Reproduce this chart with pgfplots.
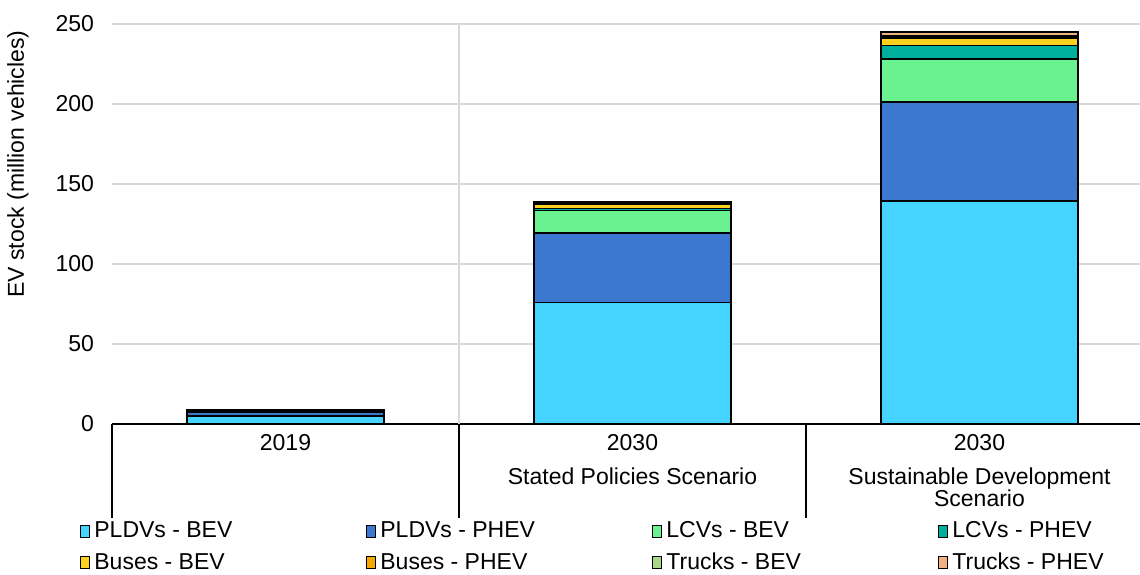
\documentclass[border=0pt]{standalone}
\usepackage{fontspec}
\setmainfont{Liberation Sans}
\usepackage{pgfplots}
\usepackage{pgfplotstable}
\pgfplotsset{compat=1.18}

\definecolor{pldvbev}{HTML}{45D3FF}
\definecolor{pldvphev}{HTML}{3D78D0}
\definecolor{lcvbev}{HTML}{6AF291}
\definecolor{lcvphev}{HTML}{00AE9E}
\definecolor{busbev}{HTML}{FFD21F}
\definecolor{busphev}{HTML}{F5A800}
\definecolor{trkbev}{HTML}{A9D78A}
\definecolor{trkphev}{HTML}{F2B183}
\definecolor{gridgray}{HTML}{D9D9D9}

% stock in million vehicles
\pgfplotstableread{
x  pbev  pphev lbev lphev bbev bphev tbev tphev
0  5.0   2.3   0.8  0.1   0.6  0.05  0.05 0.02
1  76    43.5  14   1.2   2.8  0.4   0.6  0.6
2  139.4 61.9  26.8 8.5   4.5  0.4   1.2  2.2
}\stock

\pgfplotsset{
  evbar/.style={fill=#1, draw=black, line width=0.9pt,
    legend image code/.code={\draw[fill=#1, draw=black, line width=0.5pt] (0pt,-3pt) rectangle (4.5pt,3pt);}},
}
\newcommand{\legtxt}[1]{\makebox[134pt][l]{#1}}

\begin{document}
\fontsize{11.5}{14}\selectfont
\begin{tikzpicture}
\begin{axis}[
  scale only axis,
  width=520.5pt, height=200pt,
  ybar stacked, bar width=0.57,
  xmin=-0.5, xmax=2.5,
  ymin=0, ymax=250,
  ytick={0,50,...,250},
  xtick={0,1,2},
  xticklabels={2019,{2030\\[3pt]Stated Policies Scenario},{2030\\[3pt]Sustainable Development\\[-3pt]Scenario}},
  xticklabel style={align=center, yshift=-1pt},
  yticklabel style={xshift=-5pt},
  /pgf/number format/assume math mode=true,
  major tick length=0pt,
  ymajorgrids, grid style={gridgray, line width=0.6pt},
  axis line style={draw=none},
  ylabel={EV stock (million vehicles)},
  ylabel style={at={(rel axis cs:0,0.65)}, anchor=center, yshift=47pt},
  clip=false,
  legend columns=4,
  legend cell align=left,
  legend style={at={(rel axis cs:0,0)}, anchor=north west, xshift=-19pt, yshift=-44.5pt,
    draw=none, fill=none, row sep=2pt,
    /tikz/every even column/.append style={column sep=0pt}},
]
\draw[gridgray, line width=0.8pt] (axis cs:0.5,0) -- (axis cs:0.5,250);
\addplot[evbar=pldvbev] table[x=x, y=pbev] {\stock};
\addlegendentry{\legtxt{PLDVs - BEV}}
\addplot[evbar=pldvphev] table[x=x, y=pphev] {\stock};
\addlegendentry{\legtxt{PLDVs - PHEV}}
\addplot[evbar=lcvbev] table[x=x, y=lbev] {\stock};
\addlegendentry{\legtxt{LCVs - BEV}}
\addplot[evbar=lcvphev] table[x=x, y=lphev] {\stock};
\addlegendentry{\legtxt{LCVs - PHEV}}
\addplot[evbar=busbev] table[x=x, y=bbev] {\stock};
\addlegendentry{\legtxt{Buses - BEV}}
\addplot[evbar=busphev] table[x=x, y=bphev] {\stock};
\addlegendentry{\legtxt{Buses - PHEV}}
\addplot[evbar=trkbev] table[x=x, y=tbev] {\stock};
\addlegendentry{\legtxt{Trucks - BEV}}
\addplot[evbar=trkphev] table[x=x, y=tphev] {\stock};
\addlegendentry{\legtxt{Trucks - PHEV}}
\draw[black, line width=0.8pt] (rel axis cs:0,0) -- (rel axis cs:1,0);
\draw[black, line width=0.8pt] (axis cs:-0.5,0) -- ([yshift=-47pt]axis cs:-0.5,0);
\draw[black, line width=0.8pt] (axis cs:0.5,0) -- ([yshift=-47pt]axis cs:0.5,0);
\draw[black, line width=0.8pt] (axis cs:1.5,0) -- ([yshift=-47pt]axis cs:1.5,0);
\coordinate (sw) at (rel axis cs:0,0);
\end{axis}
\pgfresetboundingbox
\path ([shift={(-56pt,-75pt)}]sw) rectangle ([shift={(514pt,212pt)}]sw);
\end{tikzpicture}
\end{document}
